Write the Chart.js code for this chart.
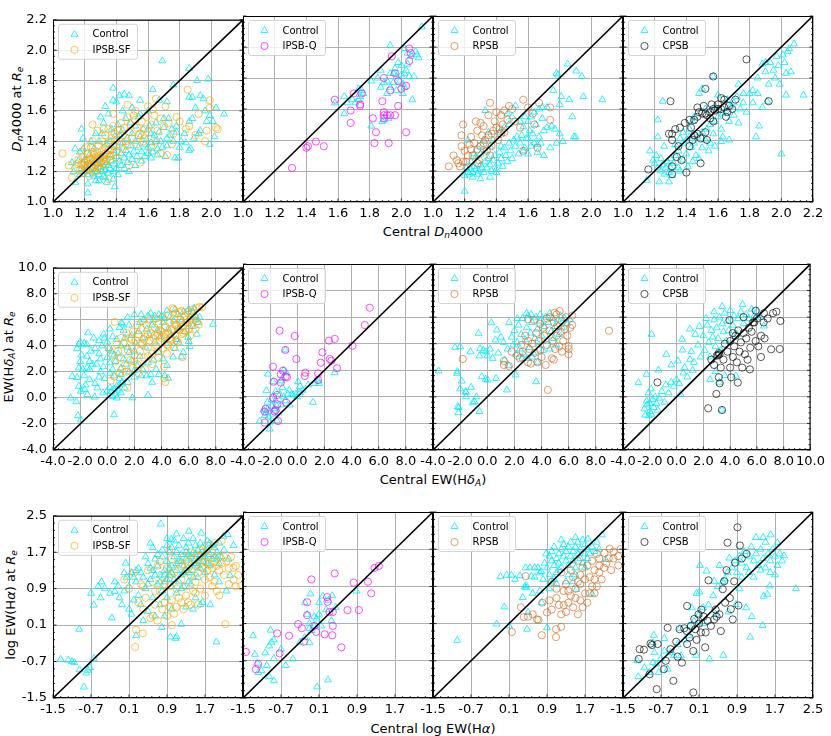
<!DOCTYPE html>
<html>
<head>
<meta charset="utf-8">
<script src="https://cdn.jsdelivr.net/npm/chart.js@4.4.1/dist/chart.umd.min.js"></script>
<style>
  body { margin: 0; background: #fff; width: 831px; height: 736px; position: relative; overflow: hidden; font-family: "DejaVu Sans", sans-serif; }
  canvas { position: absolute; }
  .xl, .yl { position: absolute; font-size: 13px; white-space: nowrap; color: #000; transform: translate(-50%, -50%); }
  .yl { transform: translate(-50%, -50%) rotate(-90deg); }
  sub { font-size: 9px; vertical-align: -2px; line-height: 0; }
</style>
</head>
<body>
<div class="yl" style="left:16px;top:109px"><i>D</i><sub><i>n</i></sub>4000 at <i>R</i><sub><i>e</i></sub></div>
<div class="xl" style="left:433px;top:231px">Central <i>D</i><sub><i>n</i></sub>4000</div>
<div class="yl" style="left:8px;top:357px">EW(H<i>δ</i><sub><i>A</i></sub>) at <i>R</i><sub><i>e</i></sub></div>
<div class="xl" style="left:433px;top:479px">Central EW(H<i>δ</i><sub><i>A</i></sub>)</div>
<div class="yl" style="left:10px;top:605px">log EW(H<i>α</i>) at <i>R</i><sub><i>e</i></sub></div>
<div class="xl" style="left:433px;top:728px">Central log EW(H<i>α</i>)</div>
<script>
// tick values per row
const dnTicks = [1.0, 1.2, 1.4, 1.6, 1.8, 2.0, 2.2];
const hdTicks = [-4, -2, 0, 2, 4, 6, 8, 10];
const haTicks = [-1.5, -0.7, 0.1, 0.9, 1.7, 2.5];
const sampleNames = ['IPSB-SF', 'IPSB-Q', 'RPSB', 'CPSB'];

// ---- Dn4000 row: [central, at Re] ----
const dnCtrlSF = [[1.69,1.93],[1.86,1.88],[1.91,1.80],[1.98,1.81],[1.38,1.75],[1.63,1.74],[1.76,1.77],[1.42,1.70],[1.45,1.71],[1.48,1.70],[1.88,1.69],[1.86,1.69],[1.93,1.70],[1.95,1.68],[1.55,1.67],[1.67,1.67],[1.72,1.66],[1.40,1.66],[2.08,1.58],[2.03,1.62],[1.99,1.57],[1.96,1.60],[1.90,1.62],[2.01,1.53],[1.97,1.53],[1.88,1.55],[1.86,1.53],[1.93,1.47],[1.92,1.45],[1.83,1.45],[2.02,1.43],[1.99,1.38],[1.87,1.35],[1.86,1.34],[1.89,1.42],[1.79,1.29],[1.77,1.29],[1.80,1.36],[1.72,1.42],[1.75,1.48],[1.78,1.50],[1.70,1.55],[1.73,1.55],[1.65,1.52],[1.62,1.45],[1.68,1.40],[1.71,1.30],[1.66,1.35],[1.60,1.32],[1.58,1.38],[1.22,1.06],[1.39,1.10],[1.34,1.13],[1.27,1.14],[1.22,1.12],[1.14,1.13],[1.17,1.18],[1.13,1.20],[1.18,1.48],[1.19,1.42],[1.14,1.35],[1.17,1.33],[1.12,1.26],[1.16,1.27],[1.33,1.63],[1.38,1.67],[1.30,1.56],[1.35,1.58],[1.44,1.60],[1.50,1.62],[1.55,1.58],[1.60,1.60],
  [1.18,1.22],[1.20,1.20],[1.21,1.24],[1.22,1.18],[1.23,1.21],[1.24,1.26],[1.25,1.19],[1.25,1.23],[1.26,1.17],[1.27,1.22],[1.27,1.28],[1.28,1.20],[1.28,1.25],[1.29,1.18],[1.30,1.23],[1.30,1.29],[1.31,1.20],[1.31,1.26],[1.32,1.17],[1.32,1.23],[1.33,1.30],[1.33,1.21],[1.34,1.26],[1.35,1.19],[1.35,1.24],[1.36,1.31],[1.36,1.22],[1.37,1.27],[1.38,1.20],[1.38,1.34],[1.39,1.25],[1.40,1.30],[1.40,1.22],[1.41,1.36],[1.42,1.27],[1.43,1.32],[1.43,1.24],[1.44,1.39],[1.45,1.29],[1.46,1.34],[1.47,1.26],[1.47,1.42],[1.48,1.31],[1.49,1.37],[1.50,1.28],[1.50,1.45],[1.51,1.33],[1.52,1.40],[1.53,1.30],[1.54,1.36],[1.55,1.43],[1.56,1.33],[1.57,1.48],[1.58,1.30],[1.59,1.41],[1.60,1.36],[1.61,1.50],[1.62,1.39],[1.63,1.33],[1.64,1.44],[1.65,1.40],[1.67,1.46],[1.69,1.36],[1.70,1.49],[1.72,1.37],[1.74,1.44],[1.76,1.40],[1.78,1.46],[1.81,1.40],[1.84,1.39],[1.26,1.35],[1.29,1.40],[1.31,1.45],[1.34,1.38],[1.37,1.48],[1.39,1.43],[1.41,1.51],[1.44,1.47],[1.46,1.55],[1.49,1.52],[1.52,1.50],[1.54,1.56],[1.23,1.31],[1.20,1.28],[1.19,1.35],[1.24,1.40],[1.27,1.45],[1.32,1.52],[1.36,1.40],[1.42,1.44],[1.45,1.22],[1.48,1.20],[1.38,1.15],[1.33,1.16],[1.29,1.14],[1.41,1.18],[1.52,1.24],[1.56,1.27],[1.62,1.29],[1.66,1.31]];
const dnIPSBSF = [[1.06,1.32],[1.10,1.24],[1.12,1.16],[1.15,1.25],[1.25,1.51],[1.38,1.58],[1.47,1.64],[1.52,1.60],[1.60,1.63],[1.63,1.61],[1.65,1.68],[1.71,1.63],[1.78,1.56],[1.85,1.74],[1.99,1.67],[1.99,1.62],[2.03,1.49],[2.04,1.48],[1.97,1.47],[1.96,1.40],[1.84,1.48],[1.55,1.45],[1.58,1.48],[1.52,1.54],[1.35,1.15],[1.48,1.24],[1.55,1.26],[1.72,1.31],[1.68,1.32],[1.62,1.36],
  [1.14,1.22],[1.16,1.28],[1.17,1.21],[1.18,1.25],[1.19,1.30],[1.20,1.23],[1.21,1.27],[1.22,1.32],[1.22,1.21],[1.23,1.25],[1.24,1.29],[1.24,1.36],[1.25,1.22],[1.26,1.27],[1.26,1.31],[1.27,1.24],[1.28,1.33],[1.28,1.29],[1.29,1.37],[1.29,1.26],[1.30,1.31],[1.31,1.34],[1.31,1.40],[1.32,1.28],[1.33,1.36],[1.33,1.44],[1.34,1.31],[1.35,1.39],[1.35,1.48],[1.36,1.34],[1.37,1.42],[1.38,1.37],[1.38,1.50],[1.39,1.45],[1.40,1.41],[1.41,1.47],[1.42,1.38],[1.43,1.52],[1.44,1.44],[1.45,1.49],[1.46,1.40],[1.47,1.56],[1.48,1.46],[1.49,1.51],[1.50,1.42],[1.51,1.57],[1.53,1.49],[1.54,1.44],[1.56,1.53],[1.57,1.40],[1.59,1.56],[1.60,1.46],[1.62,1.51],[1.64,1.57],[1.66,1.47],[1.68,1.55],[1.70,1.50],[1.73,1.52],[1.76,1.45],[1.80,1.53],[1.27,1.20],[1.30,1.22],[1.33,1.25],[1.36,1.28],[1.40,1.33],[1.44,1.35],[1.47,1.37],[1.25,1.40],[1.28,1.47],[1.32,1.48],[1.21,1.36],[1.19,1.19],[1.23,1.17],[1.18,1.33],[1.41,1.29],[1.53,1.38],[1.58,1.42],[1.65,1.40],[1.75,1.38],[1.86,1.50],[1.90,1.44],[1.92,1.58],
  [1.20,1.26],[1.22,1.24],[1.24,1.23],[1.25,1.28],[1.26,1.25],[1.27,1.30],[1.28,1.22],[1.29,1.28],[1.30,1.26],[1.31,1.30],[1.32,1.25],[1.33,1.32],[1.34,1.28],[1.35,1.34],[1.36,1.30],[1.37,1.35],[1.23,1.28],[1.25,1.33],[1.21,1.22],[1.19,1.24]];
const dnCtrlQ = [[2.13,2.13],[1.93,2.01],[2.02,1.99],[2.04,1.96],[2.06,1.94],[2.09,1.97],[2.10,1.95],[2.11,1.93],[1.98,1.90],[2.03,1.85],[2.04,1.89],[1.87,1.85],[1.93,1.83],[1.95,1.83],[1.97,1.81],[2.00,1.82],[2.02,1.83],[2.05,1.81],[2.08,1.81],[1.89,1.77],[1.91,1.78],[1.95,1.77],[1.99,1.78],[2.01,1.76],[1.81,1.78],[1.87,1.74],[1.93,1.74],[1.97,1.72],[2.02,1.74],[1.91,1.70],[2.01,1.70],[2.07,1.66],[1.58,1.64],[1.64,1.68],[1.66,1.64],[1.71,1.64],[1.73,1.66],[1.74,1.68],[1.76,1.70],[1.75,1.72],[1.73,1.73],[1.64,1.57],[1.81,1.49],[1.89,1.53],[1.92,1.54],[1.88,1.52],[1.69,1.66],[1.96,1.86],[2.00,1.88],[1.85,1.80]];
const dnIPSBQ = [[1.31,1.22],[1.40,1.35],[1.41,1.36],[1.46,1.39],[1.51,1.36],[1.58,1.66],[1.68,1.59],[1.68,1.51],[1.70,1.70],[1.74,1.62],[1.75,1.70],[1.82,1.54],[1.84,1.45],[1.83,1.38],[1.89,1.58],[1.89,1.56],[1.89,1.54],[1.91,1.56],[1.93,1.56],[1.96,1.56],[1.88,1.65],[1.92,1.38],[2.03,1.45],[1.98,1.62],[1.89,1.80],[1.93,1.72],[1.96,1.83],[1.98,1.78],[2.00,1.73],[2.03,1.75],[1.94,1.94],[2.05,1.99],[2.05,1.91],[2.06,1.96],[1.74,1.63]];
const dnCtrlR = [[1.20,1.07],[1.20,1.17],[1.22,1.19],[1.23,1.18],[1.24,1.21],[1.25,1.19],[1.26,1.23],[1.27,1.21],[1.28,1.18],[1.29,1.20],[1.30,1.24],[1.31,1.22],[1.32,1.19],[1.33,1.26],[1.34,1.22],[1.35,1.28],[1.36,1.24],[1.37,1.20],[1.38,1.27],[1.39,1.30],[1.40,1.19],[1.40,1.21],[1.41,1.25],[1.42,1.32],[1.43,1.28],[1.44,1.23],[1.45,1.35],[1.46,1.30],[1.47,1.26],[1.48,1.38],[1.49,1.33],[1.50,1.28],[1.51,1.40],[1.52,1.36],[1.53,1.42],[1.54,1.31],[1.55,1.38],[1.56,1.43],[1.57,1.485],[1.58,1.35],[1.59,1.41],[1.60,1.41],[1.61,1.46],[1.62,1.36],[1.63,1.44],[1.64,1.38],[1.65,1.50],[1.66,1.37],[1.67,1.42],[1.68,1.38],[1.70,1.30],[1.70,1.46],[1.72,1.48],[1.75,1.49],[1.77,1.47],[1.80,1.44],[1.82,1.39],[1.89,1.42],[1.90,1.42],[1.33,1.59],[1.22,1.40],[1.47,1.57],[1.52,1.62],[1.58,1.55],[1.78,1.83],[1.79,1.82],[1.85,1.89],[1.905,1.845],[1.94,1.81],[1.76,1.72],[1.81,1.68],[1.86,1.66],[1.95,1.68],[2.07,1.66],[1.80,1.63],[1.69,1.61],[1.72,1.61],[1.88,1.55],[1.69,1.54],[1.21,1.22],[1.24,1.26],[1.27,1.29],[1.30,1.31],[1.33,1.33],[1.36,1.36],[1.26,1.31],[1.29,1.36],[1.32,1.40],[1.35,1.45],[1.38,1.40],[1.42,1.45],[1.45,1.48],[1.48,1.50],[1.50,1.55],[1.55,1.52],[1.60,1.52],[1.62,1.55],[1.64,1.58],[1.67,1.60],[1.36,1.16],[1.25,1.16],[1.30,1.15],[1.43,1.36],[1.57,1.33],[1.60,1.31],[1.66,1.32],[1.74,1.35],[1.78,1.38]];
const dnRPSB = [[1.10,1.23],[1.15,1.27],[1.16,1.25],[1.17,1.23],[1.19,1.26],[1.18,1.36],[1.18,1.43],[1.19,1.50],[1.24,1.42],[1.27,1.52],[1.30,1.51],[1.28,1.46],[1.32,1.49],[1.35,1.56],[1.36,1.64],[1.40,1.58],[1.43,1.56],[1.45,1.59],[1.48,1.62],[1.50,1.60],[1.57,1.66],[1.60,1.61],[1.63,1.57],[1.67,1.64],[1.74,1.61],[1.74,1.53],[1.64,1.50],[1.66,1.35],[1.57,1.33],[1.52,1.52],[1.55,1.48],[1.25,1.30],[1.28,1.34],[1.30,1.36],[1.32,1.38],[1.33,1.40],[1.35,1.43],[1.37,1.44],[1.38,1.46],[1.40,1.48],[1.42,1.47],[1.43,1.44],[1.45,1.45],[1.26,1.38],[1.22,1.30],[1.24,1.34],[1.21,1.26],[1.29,1.27],[1.34,1.33],[1.37,1.36],[1.31,1.43],[1.39,1.52],[1.47,1.53],[1.44,1.50],[1.20,1.33],[1.23,1.37],[1.13,1.30],[1.36,1.30],[1.41,1.40],[1.28,1.25]];
const dnCtrlC = [[1.15,1.14],[1.23,1.13],[1.29,1.13],[1.22,1.53],[1.25,1.65],[1.22,1.42],[1.17,1.33],[1.44,1.52],[1.48,1.70],[1.50,1.73],[1.57,1.81],[1.60,1.69],[1.73,1.76],[1.82,1.72],[1.85,1.70],[1.88,1.89],[1.90,1.90],[1.93,1.90],[1.97,1.94],[2.01,1.95],[2.04,1.97],[2.05,1.99],[2.08,2.02],[2.03,1.83],[1.99,1.76],[2.03,1.69],[2.14,1.69],[2.00,1.31],[1.91,1.65],[1.88,1.61],[1.80,1.70],[1.90,1.84],[1.95,1.85],[1.86,1.49],[1.84,1.42],[1.73,1.51],[1.67,1.40],[1.63,1.42],[1.35,1.33],[1.38,1.38],[1.40,1.40],[1.42,1.42],[1.45,1.38],[1.47,1.42],[1.50,1.45],[1.53,1.47],[1.55,1.50],[1.58,1.52],[1.60,1.55],[1.63,1.57],[1.65,1.58],[1.68,1.62],[1.70,1.64],[1.43,1.35],[1.46,1.30],[1.50,1.35],[1.52,1.40],[1.55,1.38],[1.57,1.44],[1.62,1.47],[1.48,1.28],[1.40,1.31],[1.38,1.27],[1.35,1.22],[1.32,1.25],[1.30,1.28],[1.33,1.30],
  [1.20,1.25],[1.22,1.22],[1.24,1.20],[1.25,1.24],[1.26,1.18],[1.27,1.22],[1.28,1.26],[1.29,1.19],[1.30,1.22],[1.31,1.17],[1.24,1.28],[1.21,1.30],[1.19,1.27],[1.26,1.36],[1.33,1.37],[1.36,1.41],[1.38,1.45],[1.42,1.47],[1.45,1.55],[1.52,1.60],[1.58,1.62],[1.66,1.66],[1.72,1.68],[1.76,1.64],[1.78,1.58],[1.74,1.60],[1.70,1.56],[1.67,1.52],[1.62,1.39],[1.58,1.36],[1.54,1.33],[1.44,1.26],[1.41,1.23],[1.36,1.20],[1.85,1.80],[1.92,1.76],[1.96,1.80],[1.98,1.88],[2.02,1.90],[2.06,1.84],[1.82,1.64],[1.76,1.70]];
const dnCPSB = [[1.16,1.21],[1.30,1.65],[1.29,1.44],[1.31,1.44],[1.33,1.47],[1.31,1.40],[1.35,1.36],[1.34,1.29],[1.37,1.27],[1.31,1.23],[1.31,1.18],[1.40,1.19],[1.44,1.40],[1.45,1.43],[1.47,1.44],[1.49,1.41],[1.52,1.45],[1.53,1.40],[1.49,1.25],[1.39,1.51],[1.42,1.53],[1.45,1.53],[1.47,1.55],[1.48,1.58],[1.50,1.57],[1.52,1.57],[1.53,1.56],[1.55,1.58],[1.57,1.60],[1.58,1.59],[1.60,1.60],[1.62,1.60],[1.64,1.61],[1.66,1.58],[1.67,1.62],[1.47,1.61],[1.51,1.62],[1.52,1.73],[1.57,1.81],[1.62,1.67],[1.64,1.66],[1.71,1.66],[1.78,1.92],[1.92,1.65],[1.55,1.54],[1.65,1.55],[1.36,1.48],[1.42,1.36],[1.57,1.52],[1.60,1.63],[1.56,1.63],[1.69,1.60],[1.43,1.48]];

// ---- EW(HdeltaA) row ----
const hdCtrlSF = [[-2.7,0.0],[-2.28,-0.29],[-2.16,-1.36],[-1.96,-1.69],[-2.57,1.65],[-2.23,1.57],[-2.1,0.9],[-1.96,0.52],[-1.67,0.64],[-1.47,0.27],[-0.93,0.07],[-0.73,0.77],[-0.31,0.39],[-0.02,0.52],[-2.1,4.1],[-2.0,4.3],[-1.7,4.2],[-1.5,4.1],[-1.42,5.0],[-2.23,3.78],[-1.9,3.3],[-1.5,3.2],[-1.3,2.8],[-1.1,2.6],[-2.1,2.3],[-1.8,2.2],[-1.5,2.3],[-1.3,2.2],[-1.3,1.4],[-0.6,1.6],[-0.5,2.0],[-0.6,4.4],[-0.2,4.6],[0.0,4.3],[-0.4,4.0],[-0.27,4.9],[0.3,3.6],[0.5,3.3],[0.5,-1.29],[1.04,5.79],[1.1,5.7],[1.5,6.2],[2.0,6.4],[2.5,6.4],[3.0,6.3],[3.2,6.5],[3.5,6.3],[3.8,6.4],[4.0,6.3],[4.4,6.7],[5.0,6.8],[6.0,6.8],[6.3,6.6],[6.5,6.3],[6.8,6.2],[5.95,4.66],[6.0,4.33],[7.79,5.66],[6.07,3.95],[5.46,3.15],[4.85,3.15],[4.48,1.52],[4.23,1.72],[3.0,0.22],[2.5,1.7],[2.0,1.6],[1.6,2.0],[1.85,0.01],[1.28,0.77],[0.5,1.7],
  [0.3,0.5],[0.5,0.7],[0.6,0.3],[0.7,0.9],[0.8,0.6],[0.9,1.0],[1.0,0.4],[0.4,0.1],[0.2,0.8],[0.7,0.0],[1.1,1.2],[0.9,1.5],
  [-0.8,2.6],[-0.5,3.0],[-0.3,2.4],[0.0,3.1],[0.2,2.7],[0.4,2.2],[0.1,3.8],[0.6,2.8],[0.8,3.4],[1.0,2.3],[1.2,3.0],[1.4,2.6],[1.6,3.5],[1.8,2.9],[2.0,3.6],[2.2,2.5],[2.4,3.2],[2.6,2.2],[2.8,3.9],[3.0,2.7],[3.2,1.8],[3.4,2.9],[3.6,2.2],[3.8,1.8],[0.7,4.5],[1.0,4.0],[1.3,4.6],[1.5,3.9],[1.8,4.8],[2.1,4.2],[2.3,5.1],[2.6,4.6],[2.9,5.3],[3.1,4.8],[3.3,5.6],[3.5,4.3],[3.7,5.2],[3.9,4.7],[4.1,5.8],[4.3,4.2],[4.5,5.3],[4.7,4.8],[4.9,5.9],[5.1,4.5],[5.3,5.4],[5.5,6.0],[5.7,5.1],[5.9,5.7],[6.1,6.2],[6.3,5.5],[6.5,6.0],[6.7,5.8],[0.9,5.4],[1.6,5.6],[2.4,5.8],[-0.9,3.8],[-0.6,3.4],[-1.2,3.6],[-1.0,4.6],[0.4,4.7],[0.2,5.3],[1.2,5.2],[2.7,6.0],[3.4,6.0],[4.2,6.1],[4.6,6.2],[5.2,6.4],[5.6,6.6],[2.0,2.1],[2.9,1.7],[3.3,1.2],[1.5,1.2],[1.0,1.8],[0.2,1.9],[-0.2,1.5],[-0.9,1.1],[-1.6,1.0],[-2.0,2.8],[-1.7,1.7],[3.8,3.5],[4.1,3.0],[4.4,2.5],[5.0,3.8],[5.3,4.2],[5.6,3.5],[6.6,4.9],[6.4,6.9]];
const hdIPSBSF = [[1.11,7.42],[1.48,0.77],[4.28,1.22],[4.2,1.5],[0.5,1.65],[0.25,1.32],[0.1,3.8],[0.55,5.84],[5.53,3.13],[4.18,2.4],[6.74,5.66],[6.98,6.96],[6.6,6.9],[6.8,7.0],[6.2,6.5],
  [0.6,2.8],[0.8,3.6],[1.0,3.1],[1.2,4.2],[1.3,2.5],[1.5,3.7],[1.6,4.6],[1.7,2.9],[1.8,3.9],[1.9,5.1],[2.0,3.3],[2.1,4.4],[2.2,2.6],[2.3,4.9],[2.4,3.6],[2.5,5.3],[2.6,4.1],[2.7,3.1],[2.8,4.7],[2.9,5.6],[3.0,3.9],[3.1,4.4],[3.2,5.0],[3.3,3.4],[3.4,4.6],[3.5,5.4],[3.6,4.0],[3.7,4.9],[3.8,5.7],[3.9,4.3],[4.0,5.1],[4.1,3.8],[4.2,4.7],[4.3,5.5],[4.4,4.1],[4.5,5.0],[4.6,5.8],[4.7,4.5],[4.8,5.3],[4.9,6.1],[5.0,4.8],[5.1,5.6],[5.2,4.3],[5.3,5.2],[5.4,6.0],[5.5,4.9],[5.6,5.5],[5.7,6.3],[5.8,5.1],[5.9,5.8],[6.0,5.3],[6.1,6.0],[6.2,5.6],[6.4,6.2],[6.6,5.9],[2.2,5.6],[2.6,5.9],[3.1,6.0],[3.6,6.1],[4.1,6.2],[4.5,6.4],[5.0,6.5],[5.3,6.6],[4.8,6.9],[4.4,3.4],[4.9,3.9],[3.8,3.1],[3.3,2.6],[2.8,2.2],[2.3,1.9],[1.9,2.3],[1.4,2.0],[0.9,1.9],[3.5,4.8],[3.9,5.2],[4.3,4.9],[4.7,5.2],[5.2,5.3],[5.6,5.0],[4.0,4.6],[4.6,4.6],[5.0,5.6],[5.4,5.8],[5.8,6.0],[3.0,4.9],[2.7,4.5],[2.4,4.2],[1.8,4.5],[1.4,5.0],[1.0,4.6],[0.7,4.1],[0.4,3.3],[1.1,2.2],[2.0,2.8],[3.0,3.2],[3.7,3.6],[4.5,4.0],[5.1,4.4],[6.1,4.8],[6.5,5.3],[6.3,6.8],[5.9,6.6],[5.5,6.7],[4.9,6.8]];
const hdCtrlQ = [[-2.77,-1.82],[-2.03,-2.42],[-2.1,-1.5],[-2.3,-1.2],[-2.2,-0.9],[-1.9,-0.7],[-2.28,0.47],[-2.16,1.72],[-1.79,1.14],[-1.6,-0.3],[-1.3,0.2],[-1.0,0.0],[-0.7,0.2],[-0.4,0.2],[-0.1,0.2],[0.2,0.3],[-0.31,0.14],[0.05,1.14],[-0.88,3.53],[-1.0,2.0],[-0.8,1.8],[-1.1,1.4],[-1.2,1.2],[0.2,0.8],[0.8,0.9],[1.16,-0.41],[1.56,1.2],[1.6,1.0],[2.76,1.82],[-0.56,-0.61],[-1.5,-1.8],[-1.5,-0.7],[-2.4,-1.4],[-2.0,-1.9],[-1.8,-1.3],[-1.7,-0.9],[-2.2,-0.4],[-1.9,-0.2],[-1.6,0.4],[-1.4,-1.2],[-1.2,-0.6],[-0.9,-0.3],[-2.5,-1.0],[-1.1,0.7],[-0.6,0.5],[0.0,0.0],[0.4,0.5],[1.3,1.0]];
const hdIPSBQ = [[-2.40,-1.94],[-2.40,-1.11],[-2.33,-0.9],[-1.67,-1.11],[-1.6,-1.0],[-1.42,-1.82],[-1.79,-0.06],[-1.49,0.14],[-1.47,-0.56],[-1.79,2.27],[-1.74,1.14],[-1.22,1.07],[-1.22,1.70],[-1.05,1.97],[-0.86,1.52],[-0.76,1.47],[-0.88,3.53],[-1.30,4.98],[-0.81,-0.44],[-0.19,4.58],[-0.07,2.85],[0.59,1.82],[0.55,1.57],[1.53,1.77],[1.53,1.27],[1.85,3.35],[1.73,2.57],[2.34,4.23],[2.76,4.36],[2.39,2.85],[2.51,2.72],[2.93,2.15],[4.06,3.85],[4.97,5.41],[5.34,6.71]];
const hdCtrlR = [[-3.58,1.95],[-2.23,1.77],[-2.2,1.9],[-2.18,-0.74],[-2.13,-1.19],[-1.88,1.19],[-1.56,0.01],[-1.6,0.4],[-1.19,0.72],[-0.95,-0.36],[-0.58,-1.11],[-0.41,1.52],[-2.38,3.73],[-2.0,3.78],[-1.24,3.4],[-0.65,4.78],[-0.53,3.63],[-0.58,3.08],[-0.3,3.5],[-0.09,3.4],[0.0,3.08],[0.2,3.6],[0.3,5.58],[0.6,4.28],[0.7,5.03],[1.0,4.5],[1.27,2.77],[1.58,2.35],[1.44,0.52],[0.65,1.39],[0.03,1.27],[-0.13,1.32],[-1.56,0.34],[-2.0,0.6],[-1.07,-0.44],[-0.8,0.0],[-2.1,-0.8],[2.08,1.65],[3.6,1.14],
  [1.6,5.6],[1.8,4.5],[2.0,5.0],[2.2,4.1],[2.3,5.4],[2.4,3.6],[2.5,4.7],[2.6,5.9],[2.7,3.2],[2.8,4.3],[2.9,5.2],[3.0,6.1],[3.1,3.7],[3.2,4.8],[3.23,6.21],[3.3,5.6],[3.4,3.3],[3.5,4.4],[3.6,6.0],[3.7,5.1],[3.8,3.9],[3.9,5.7],[4.0,4.6],[4.1,3.5],[4.2,5.3],[4.3,6.0],[4.4,4.2],[4.5,5.6],[4.6,3.6],[4.7,4.9],[4.8,5.9],[4.9,4.4],[5.0,5.3],[5.1,3.9],[5.2,5.8],[5.3,4.7],[5.5,5.2],[5.7,5.9],[5.9,5.5],[6.1,5.8],[2.1,3.2],[2.6,2.9],[3.0,2.9],[3.3,3.0],[1.2,4.1],[1.5,3.6],[1.9,3.9],[0.8,3.3],[0.4,2.9],[3.7,2.6],[2.2,5.9],[2.9,6.3],[3.9,6.2],[4.6,6.3],[5.4,6.1]];
const hdRPSB = [[-1.81,2.85],[1.22,2.7],[1.22,2.4],[1.59,2.32],[2.4,2.9],[2.6,3.4],[3.2,2.5],[3.0,2.6],[4.46,0.52],[8.97,4.98],[5.99,3.2],[5.99,3.83],[6.26,5.41],[6.26,6.11],[5.33,6.46],[4.96,6.34],[4.4,5.9],[4.76,2.9],[3.7,2.6],[4.0,3.0],[2.99,5.84],[3.43,5.79],[3.0,4.2],[3.3,4.0],[3.8,4.2],
  [2.8,4.6],[3.1,3.6],[3.5,3.3],[3.9,3.5],[4.2,4.6],[4.4,3.9],[4.6,5.0],[4.8,4.2],[4.9,5.6],[5.0,3.6],[5.1,4.6],[5.2,5.3],[5.3,3.8],[5.4,4.9],[5.5,5.7],[5.6,4.2],[5.7,5.1],[5.8,6.0],[5.9,4.6],[6.1,5.2],[4.1,5.2],[3.6,4.8],[2.5,3.9],[2.2,3.1],[1.8,3.4],[4.3,2.4],[4.9,2.8],[5.5,3.4],[6.0,3.6],[4.6,6.0],[5.1,6.2],[3.9,5.5]];
const hdCtrlC = [[-2.85,1.07],[-2.24,1.70],[-2.34,-1.37],[-2.09,-1.42],[-2.24,-0.31],[-2.0,-0.5],[-1.8,-0.2],[-1.6,0.0],[-1.5,-0.5],[-1.3,-0.1],[-2.1,0.3],[-1.9,0.6],[-1.87,4.71],[-0.77,3.2],[-1.36,2.02],[-0.4,1.1],[0.41,4.33],[0.45,3.53],[1.0,2.8],[1.2,2.0],[4.93,6.96],[6.52,5.33],[3.39,-0.99],[4.44,1.57],
  [-2.4,-0.9],[-2.0,-1.1],[-1.7,-0.8],[-1.4,-1.0],[-2.2,-0.6],[-1.9,-1.3],[-1.1,0.4],[-0.8,0.9],[-0.6,0.3],[-0.2,0.8],[0.0,1.3],[0.2,1.0],[0.5,1.8],[0.8,1.5],[-0.4,2.4],[0.1,2.7],[0.6,2.2],[1.1,3.4],[1.3,2.6],[1.6,3.9],[1.8,3.0],[2.0,4.6],[2.1,3.5],[2.3,5.4],[2.4,4.1],[2.5,3.0],[2.6,5.0],[2.7,4.5],[2.8,5.8],[2.9,3.8],[3.0,5.2],[3.1,4.4],[3.2,6.0],[3.3,3.5],[3.4,5.5],[3.5,4.9],[3.6,6.3],[3.7,4.2],[3.8,5.7],[3.9,5.0],[4.0,6.5],[4.2,5.4],[4.3,6.1],[4.5,4.7],[4.6,5.9],[4.8,6.4],[5.0,5.5],[5.2,6.2],[5.4,5.9],[5.6,6.6],[5.8,6.1],[6.0,6.4],[6.3,6.0],[1.4,4.7],[1.0,5.1],[1.7,5.3],[2.2,5.9],[2.8,6.4],[3.4,6.8],[2.5,1.3],[2.9,1.9],[3.2,1.1],[3.6,1.6],[0.3,0.2],[-0.9,-0.4]];
const hdCPSB = [[-1.43,1.09],[2.36,-0.86],[2.97,0.22],[3.22,1.02],[3.39,-0.99],[3.15,1.47],[4.08,1.47],[4.57,1.07],[4.0,2.2],[3.1,3.15],[3.2,3.2],[3.0,3.1],[3.15,3.3],[3.95,5.78],[5.91,6.49],[6.52,6.29],[7.45,6.41],[7.75,5.71],[7.06,3.58],[7.7,3.6],[6.57,4.4],[5.47,2.07],[6.3,3.0],[4.2,3.0],
  [2.8,2.4],[3.3,2.2],[3.5,2.8],[3.8,3.4],[4.0,4.2],[4.3,3.8],[4.4,4.6],[4.5,2.6],[4.7,3.4],[4.8,4.1],[5.0,4.8],[5.1,3.2],[5.2,4.4],[5.4,5.2],[5.5,3.7],[5.6,4.9],[5.8,5.6],[5.9,4.2],[6.0,5.9],[6.1,3.8],[6.3,4.6],[6.5,5.6],[6.8,5.9],[7.2,6.3],[5.7,5.6],[5.3,2.8],[4.9,2.2],[4.6,5.0],[4.2,4.8],[3.6,4.0],[2.6,2.8],[5.0,6.0]];

// ---- log EW(Halpha) row ----
const haCtrlSF = [[-1.34,-0.65],[-1.18,-0.67],[-1.1,-0.7],[-1.05,-0.72],[-0.94,-0.88],[-0.77,-0.89],[-0.85,-1.26],[-0.95,0.01],[-0.64,-0.63],[-0.64,0.54],[-0.48,1.05],[-0.41,0.91],[-0.26,0.26],[-0.2,0.84],[-0.13,0.96],[0.03,1.46],[0.15,0.34],[0.25,-0.13],[0.77,2.32],[0.79,0.05],[0.99,1.98],[0.97,-0.16],[1.08,-0.19],[1.36,2.16],[1.62,2.12],[2.09,2.05],[2.18,2.09],[1.2,0.12],[1.94,-0.27],[1.81,0.55],[2.15,0.85],[2.23,1.19],[-0.8,-0.95],[-0.72,-0.83],
  [-0.1,0.7],[-0.05,0.55],[0.0,0.85],[0.05,1.15],[0.1,0.95],[0.1,0.45],[0.15,1.25],[0.2,0.65],[0.25,1.05],[0.3,1.35],[0.3,0.75],[0.35,0.55],[0.4,1.15],[0.4,0.2],[0.45,0.9],[0.5,1.45],[0.5,0.4],[0.55,1.1],[0.6,0.7],[0.6,1.3],[0.65,1.55],[0.65,0.3],[0.7,1.0],[0.7,1.4],[0.75,0.55],[0.75,1.2],[0.8,1.6],[0.8,0.85],[0.85,1.3],[0.85,1.05],[0.9,1.5],[0.9,0.7],[0.95,1.2],[0.95,1.7],[1.0,0.95],[1.0,1.4],[1.05,1.1],[1.05,1.6],[1.1,1.3],[1.1,0.8],[1.15,1.5],[1.15,1.85],[1.2,1.2],[1.2,1.65],[1.25,1.4],[1.25,0.95],[1.3,1.55],[1.3,1.8],[1.35,1.25],[1.35,1.65],[1.4,1.45],[1.4,1.0],[1.45,1.7],[1.45,1.3],[1.5,1.55],[1.5,1.85],[1.55,1.4],[1.55,1.15],[1.6,1.65],[1.6,1.35],[1.65,1.8],[1.65,1.5],[1.7,1.6],[1.7,1.25],[1.75,1.75],[1.75,1.45],[1.8,1.65],[1.8,1.9],[1.85,1.55],[1.9,1.8],[1.95,1.7],[2.0,1.9],[2.05,1.6],[2.1,1.75],[2.2,1.55],[0.9,2.0],[1.1,2.1],[1.25,2.0],[1.45,2.0],[0.6,1.8],[0.45,1.6],[0.2,1.15],[0.0,1.25],[1.3,0.5],[1.5,0.7],[1.45,0.45],[1.65,0.6],[1.0,0.45],[0.85,0.3],[1.1,-0.15],[-0.3,0.8],[-0.55,0.95],[-0.7,0.8],[-0.5,0.7],[-0.2,1.05],[0.55,1.9],[1.6,0.55],[1.9,1.2],[2.0,1.05],[2.3,1.85],
  [0.7,1.65],[0.8,1.75],[0.9,1.85],[1.0,1.8],[1.05,1.95],[1.1,1.7],[1.2,1.5],[1.3,1.3],[1.35,1.9],[1.4,1.6],[1.5,1.65],[1.55,1.75],[1.6,1.9],[1.7,1.7],[1.75,1.95],[1.8,1.4],[1.85,1.85],[1.9,1.6],[1.95,1.55],[2.0,1.45],[0.95,1.35],[0.85,1.2],[0.75,1.05],[0.65,1.2],[0.55,1.35],[0.5,1.0],[0.35,1.25],[0.25,1.3],[1.0,1.25],[1.15,1.05],[1.25,1.25],[1.45,1.15],[1.55,1.5],[1.65,1.6],[1.2,0.9],[1.35,1.05],[0.9,1.1],[1.1,1.45],[1.3,1.7],[1.5,1.45]];
const haIPSBSF = [[0.23,-0.38],[0.25,0.0],[0.39,-0.08],[0.4,0.45],[0.6,0.3],[1.0,0.1],[2.13,0.12],[2.46,0.96],[2.3,1.36],[2.35,1.4],[2.4,1.2],[2.1,1.6],[0.9,0.3],[1.1,0.5],[0.8,0.45],[1.3,0.75],[1.4,0.55],
  [0.0,1.1],[0.1,0.9],[0.2,1.25],[0.3,0.6],[0.35,1.0],[0.45,0.7],[0.5,1.3],[0.55,0.25],[0.6,1.05],[0.65,0.55],[0.7,1.4],[0.75,0.85],[0.8,1.15],[0.85,0.6],[0.9,1.35],[0.95,0.95],[1.0,1.55],[1.0,0.65],[1.05,1.25],[1.1,0.9],[1.15,1.45],[1.2,1.1],[1.2,0.6],[1.25,1.6],[1.3,1.3],[1.3,0.95],[1.35,1.5],[1.4,1.2],[1.4,1.7],[1.45,0.85],[1.5,1.4],[1.5,1.05],[1.55,1.6],[1.55,1.25],[1.6,1.45],[1.6,0.9],[1.65,1.35],[1.65,1.7],[1.7,1.5],[1.7,1.1],[1.75,1.3],[1.75,1.6],[1.8,1.45],[1.8,1.15],[1.85,1.35],[1.85,1.7],[1.9,1.5],[1.9,1.05],[1.95,1.4],[1.95,0.85],[2.0,1.3],[2.0,1.6],[2.05,1.45],[2.1,1.2],[2.15,1.5],[2.2,1.35],[2.25,1.6],[2.3,1.1],[2.35,0.95],[1.5,0.8],[1.35,0.6],[1.25,0.45],[1.15,0.7],[1.05,0.35],[0.95,0.5],[0.7,0.2],[1.55,0.55],[1.7,0.75],[1.85,0.95],[2.0,0.75],[2.2,1.0],[1.2,1.4],[1.0,1.2],[0.85,1.0],[0.65,0.85],[0.4,0.95],[1.6,1.75],[1.45,1.55],[1.35,1.4],[1.75,1.85],[1.9,1.9],[2.05,1.95],[0.95,1.75],[0.75,1.5]];
const haCtrlQ = [[-1.29,-0.16],[-1.25,-0.56],[-1.18,-0.95],[-1.11,-0.91],[-0.95,-1.04],[-0.85,-1.13],[-0.92,-0.04],[-1.03,-0.53],[-0.9,-0.3],[-0.95,-0.38],[-0.85,-0.25],[-0.85,-0.65],[-0.45,-0.66],[-0.08,0.74],[-0.2,0.55],[-0.1,0.0],[0.0,0.25],[0.05,0.2],[0.1,0.3],[0.15,0.05],[-0.1,-0.31],[0.06,-1.26],[0.18,0.69],[0.3,0.6],[0.38,0.7],[0.29,-1.11],[0.36,0.16],[0.89,0.8],[-0.1,0.1],[-0.05,-0.05],[-0.2,-0.2],[-1.2,-0.75],[-0.7,-0.45],[-0.3,-0.3],[0.0,0.05],[-0.15,0.3],[0.1,0.55],[0.25,0.4],[-0.6,-0.8],[-1.0,-0.8],[0.45,0.45]];
const haIPSBQ = [[-1.44,-0.51],[-1.18,-0.77],[-1.23,-0.88],[-0.73,-0.54],[-0.78,-0.11],[-0.53,-0.16],[-0.34,0.09],[-0.26,0.0],[-0.22,-0.29],[-0.15,0.56],[-0.15,0.28],[-0.06,1.05],[0.04,-0.08],[0.0,0.05],[0.28,0.57],[0.27,0.67],[0.32,0.35],[0.39,0.35],[0.22,-0.13],[0.38,-0.15],[0.39,0.05],[0.43,1.18],[0.57,-0.41],[0.7,0.39],[0.94,0.39],[0.83,0.98],[1.13,1.0],[1.2,0.75],[1.27,1.3],[1.36,1.34]];
const haCtrlR = [[-0.99,-0.26],[-0.16,0.09],[0.0,0.46],[0.1,0.05],[0.48,-0.02],[0.5,0.34],[0.39,0.66],[0.43,0.89],[-0.08,1.11],[0.05,1.14],[0.15,1.14],[0.23,1.05],[0.33,1.13],[0.45,1.3],[0.54,1.3],[0.64,1.3],[0.71,1.3],[0.57,1.12],[0.64,1.1],[0.75,1.19],[0.82,1.05],[0.78,1.22],[0.46,0.87],[0.79,0.55],[0.9,0.01],[0.46,0.92],[2.06,2.01],[1.76,1.92],[2.13,1.48],[1.85,0.74],[1.52,0.84],
  [0.9,1.3],[0.95,1.55],[1.0,1.45],[1.0,1.65],[1.05,1.35],[1.05,1.75],[1.1,1.5],[1.1,1.2],[1.15,1.6],[1.15,1.4],[1.2,1.7],[1.2,1.3],[1.25,1.55],[1.25,1.8],[1.3,1.45],[1.3,1.65],[1.35,1.35],[1.35,1.75],[1.4,1.55],[1.4,1.85],[1.45,1.45],[1.45,1.65],[1.5,1.75],[1.5,1.3],[1.55,1.6],[1.55,1.85],[1.6,1.5],[1.6,1.7],[1.65,1.4],[1.65,1.9],[1.7,1.6],[1.7,1.8],[1.75,1.5],[1.75,1.7],[1.8,1.6],[1.85,1.75],[1.9,1.65],[1.95,1.85],[2.0,1.7],[1.2,1.9],[1.5,1.95],[1.05,1.05],[0.95,1.15],[0.85,1.4],[0.88,1.6],[1.35,1.15],[1.1,0.95],[0.95,0.85],[0.75,0.8],[0.6,0.75],[1.3,1.0],[1.5,1.15],[1.45,1.0],[1.7,1.3],[1.15,1.25],[0.98,1.0]];
const haRPSB = [[0.16,-0.08],[0.41,0.24],[0.45,1.12],[0.69,0.19],[0.72,0.18],[0.79,-0.15],[0.9,0.34],[1.09,-0.02],[1.09,-0.19],[1.2,0.03],[1.2,0.3],[0.35,0.45],[0.5,0.25],[0.6,0.3],[0.8,0.55],[0.95,0.6],[1.1,0.65],[1.25,0.5],[1.35,0.55],[1.4,0.7],[1.5,0.65],[1.6,0.6],[1.7,0.75],[1.8,0.75],[1.9,0.75],[1.9,1.05],[2.0,1.2],[2.1,1.3],[2.2,1.5],[2.3,1.5],[2.4,1.55],[2.45,1.7],[2.3,1.65],[2.0,1.5],[1.65,1.3],[1.55,1.0],[1.45,1.1],[1.3,0.95],[2.22,1.71],[2.11,1.62],
  [1.0,0.4],[1.15,0.5],[1.3,0.35],[1.45,0.45],[1.55,0.3],[1.65,0.45],[1.75,0.55],[1.85,0.9],[1.95,0.9],[2.05,1.05],[1.1,0.85],[1.25,0.8],[1.35,0.8],[1.5,0.85],[1.6,0.95],[1.7,1.05],[1.8,1.1],[1.9,1.25],[2.0,1.35],[2.15,1.4],[1.4,1.25],[1.6,1.15],[1.75,1.35],[1.85,1.45],[1.55,1.45],[2.25,1.25],[2.4,1.35],[1.95,1.6],[1.2,1.2],[1.0,1.0]];
const haCtrlC = [[-1.18,-1.04],[-0.85,-0.15],[-0.87,-0.31],[-0.84,-0.52],[-0.87,-0.74],[-0.8,-0.77],[-0.63,-0.22],[-0.56,-0.88],[-0.63,-0.49],[-0.5,-0.52],[-0.43,-0.59],[-0.28,-0.59],[-0.12,-0.16],[-0.05,0.44],[0.05,0.75],[0.11,0.78],[0.04,-0.58],[0.12,1.35],[0.19,0.44],[0.26,1.23],[0.32,-0.66],[0.42,1.01],[0.53,1.35],[0.61,-0.58],[0.65,1.06],[0.74,1.51],[0.72,0.35],[0.88,0.51],[1.09,0.44],[1.18,-0.19],[1.21,0.25],[1.44,0.06],[1.46,0.69],[1.54,0.73],[1.59,0.91],[1.61,2.01],[1.75,1.84],[1.89,1.56],[2.14,0.85],
  [-1.2,-0.7],[-1.05,-0.85],[-0.95,-0.95],[-0.7,-0.65],[-0.75,-0.95],[-0.35,-0.35],[-0.2,-0.25],[-0.1,0.05],[0.0,0.15],[0.1,0.3],[0.2,0.1],[0.3,0.5],[0.4,0.7],[0.5,0.9],[0.6,1.0],[0.7,1.2],[0.8,1.3],[0.85,1.45],[0.9,1.2],[0.95,1.55],[1.0,1.4],[1.05,1.65],[1.1,1.3],[1.15,1.55],[1.2,1.75],[1.25,1.45],[1.3,1.6],[1.35,1.35],[1.4,1.7],[1.45,1.5],[1.5,1.85],[1.5,1.3],[1.55,1.6],[1.6,1.45],[1.65,1.7],[1.7,1.55],[1.75,1.35],[1.8,1.6],[1.85,1.45],[1.3,1.95],[1.45,1.95],[1.15,1.2],[1.0,1.1],[0.95,0.85],[1.25,1.1],[1.4,1.25],[1.6,1.2],[0.45,0.3],[-0.3,0.0],[1.7,1.15]];
const haCPSB = [[-1.17,-0.66],[-1.15,-0.45],[-1.06,-0.46],[-0.92,-0.33],[-0.89,-0.36],[-0.77,-0.34],[-0.94,-0.99],[-0.79,-1.31],[-0.64,-0.88],[-0.56,0.01],[-0.44,-1.13],[-0.38,-0.29],[-0.35,-0.61],[-0.26,-0.74],[-0.31,-0.02],[-0.21,0.0],[-0.16,-0.06],[-0.15,0.48],[-0.15,-0.34],[-0.07,0.05],[-0.02,-0.49],[-0.02,-1.38],[0.02,-0.02],[0.09,0.3],[0.14,-0.09],[0.23,-0.41],[0.24,-0.09],[0.28,0.16],[0.3,1.03],[0.42,0.19],[0.47,0.25],[0.53,0.3],[0.56,-0.06],[0.6,0.84],[0.63,1.01],[0.68,1.25],[0.7,1.84],[0.77,0.41],[0.81,0.19],[0.84,1.01],[0.86,1.41],[0.91,2.17],[0.93,0.49],[0.96,1.78],
  [0.0,0.2],[0.1,0.1],[0.2,0.25],[-0.1,-0.2],[0.35,0.05],[0.45,0.4],[0.65,0.55],[1.0,1.5],[1.1,1.6],[0.75,0.65],[-0.5,-0.45],[0.15,0.4],[0.05,-0.25],[-0.6,-0.7]];

// ---- styling / layout ----
const ctrlColor = 'rgba(0,235,255,0.8)';
const sampleColors = ['rgba(255,165,0,0.65)', 'rgba(255,0,255,0.7)', 'rgba(210,105,30,0.65)', 'rgba(0,0,0,0.65)'];
const panelLeft = [53, 243, 433, 623];
const panelTop = [16, 264, 512];
const PW = 190, PH = 186, PADL = 45, PADT = 10, PADR = 16, PADB = 22;

const rows = [
  { ticks: dnTicks, ctrl: [dnCtrlSF, dnCtrlQ, dnCtrlR, dnCtrlC], samp: [dnIPSBSF, dnIPSBQ, dnRPSB, dnCPSB] },
  { ticks: hdTicks, ctrl: [hdCtrlSF, hdCtrlQ, hdCtrlR, hdCtrlC], samp: [hdIPSBSF, hdIPSBQ, hdRPSB, hdCPSB] },
  { ticks: haTicks, ctrl: [haCtrlSF, haCtrlQ, haCtrlR, haCtrlC], samp: [haIPSBSF, haIPSBQ, haRPSB, haCPSB] }
];

function toXY(arr) { return arr.map(p => ({ x: p[0], y: p[1] })); }

function markerPath(ctx, style, x, y, r) {
  ctx.beginPath();
  if (style === 'triangle') {
    ctx.moveTo(x, y - r);
    ctx.lineTo(x + r * 0.866, y + r / 2);
    ctx.lineTo(x - r * 0.866, y + r / 2);
    ctx.closePath();
  } else {
    ctx.arc(x, y, r, 0, Math.PI * 2);
  }
}

// frame, inward major + minor ticks
const frameTicks = {
  id: 'frameTicks',
  afterDatasetsDraw(chart, args, opts) {
    const { ctx, chartArea: a } = chart;
    const xs = chart.scales.x, ys = chart.scales.y, tk = opts.ticks;
    ctx.save();
    ctx.strokeStyle = '#000';
    ctx.lineWidth = 0.8;
    ctx.beginPath();
    for (let i = 0; i < tk.length; i++) {
      const vals = [tk[i]];
      if (i < tk.length - 1) for (let k = 1; k < 5; k++) vals.push(tk[i] + (tk[i + 1] - tk[i]) * k / 5);
      vals.forEach((v, j) => {
        const len = j === 0 ? 3.5 : 2;
        const px = xs.getPixelForValue(v), py = ys.getPixelForValue(v);
        ctx.moveTo(px, a.bottom); ctx.lineTo(px, a.bottom - len);
        ctx.moveTo(a.left, py); ctx.lineTo(a.left + len, py);
        ctx.moveTo(a.right, py); ctx.lineTo(a.right - len, py);
      });
    }
    ctx.stroke();
    ctx.lineWidth = 1;
    ctx.strokeRect(a.left + 0.5, a.top + 0.5, a.right - a.left - 1, a.bottom - a.top - 1);
    ctx.restore();
  }
};

// legend boxed inside the upper left corner
const insideLegend = {
  id: 'insideLegend',
  afterDatasetsDraw(chart) {
    const { ctx, chartArea: a } = chart;
    const items = chart.data.datasets.filter(d => d.label);
    ctx.save();
    ctx.font = '10px "DejaVu Sans"';
    const tw = Math.max(...items.map(d => ctx.measureText(d.label).width));
    const x = a.left + 5.5, y = a.top + 4.5, w = Math.round(tw + 41), h = 35;
    ctx.beginPath();
    ctx.roundRect(x, y, w, h, 2.5);
    ctx.fillStyle = 'rgba(255,255,255,0.8)';
    ctx.fill();
    ctx.strokeStyle = '#d4d4d4';
    ctx.lineWidth = 1;
    ctx.stroke();
    items.forEach((d, i) => {
      const cy = y + 10 + i * 15.5;
      markerPath(ctx, d.pointStyle, x + 16, cy, d.pointRadius);
      ctx.strokeStyle = d.borderColor;
      ctx.stroke();
      ctx.fillStyle = '#000';
      ctx.textBaseline = 'middle';
      ctx.fillText(d.label, x + 34, cy + 0.5);
    });
    ctx.restore();
  }
};

Chart.defaults.font.family = '"DejaVu Sans"';

rows.forEach((row, r) => {
  const lo = row.ticks[0], hi = row.ticks[row.ticks.length - 1];
  row.ctrl.forEach((ctrl, c) => {
    const cv = document.createElement('canvas');
    cv.width = PADL + PW + PADR;
    cv.height = PADT + PH + PADB;
    cv.style.left = (panelLeft[c] - PADL) + 'px';
    cv.style.top = (panelTop[r] - PADT) + 'px';
    document.body.appendChild(cv);

    const axis = (isX) => ({
      type: 'linear',
      min: lo,
      max: hi,
      afterBuildTicks: s => { s.ticks = row.ticks.map(v => ({ value: v })); },
      afterFit: s => { if (isX) s.height = PADB; else s.width = PADL; },
      grid: { color: '#b0b0b0', lineWidth: 1, drawTicks: false },
      border: { display: false },
      ticks: {
        display: isX || c === 0,
        color: '#000',
        font: { size: 13 },
        padding: isX ? 4 : 6,
        maxRotation: 0,
        autoSkip: false,
        callback: (v, i, t) => (isX && c < 3 && i === t.length - 1) ? '' : Number(v).toFixed(1)
      }
    });

    new Chart(cv, {
      type: 'scatter',
      data: {
        datasets: [
          { label: 'Control', data: toXY(ctrl), pointStyle: 'triangle', pointRadius: 4, borderColor: ctrlColor,
            backgroundColor: 'rgba(0,0,0,0)', pointBorderWidth: 1, order: 2, clip: 0 },
          { label: sampleNames[c], data: toXY(row.samp[c]), pointStyle: 'circle', pointRadius: 3.6, borderColor: sampleColors[c],
            backgroundColor: 'rgba(0,0,0,0)', pointBorderWidth: 1, order: 1, clip: 0 },
          { type: 'line', data: [{ x: lo, y: lo }, { x: hi, y: hi }], borderColor: '#000', borderWidth: 1.6,
            pointRadius: 0, order: 0, clip: 0 }
        ]
      },
      options: {
        responsive: false,
        animation: false,
        events: [],
        layout: { padding: { left: 0, top: PADT, right: PADR, bottom: 0 } },
        scales: { x: axis(true), y: axis(false) },
        plugins: {
          legend: { display: false },
          tooltip: { enabled: false },
          frameTicks: { ticks: row.ticks }
        }
      },
      plugins: [frameTicks, insideLegend]
    });
  });
});
</script>
</body>
</html>
